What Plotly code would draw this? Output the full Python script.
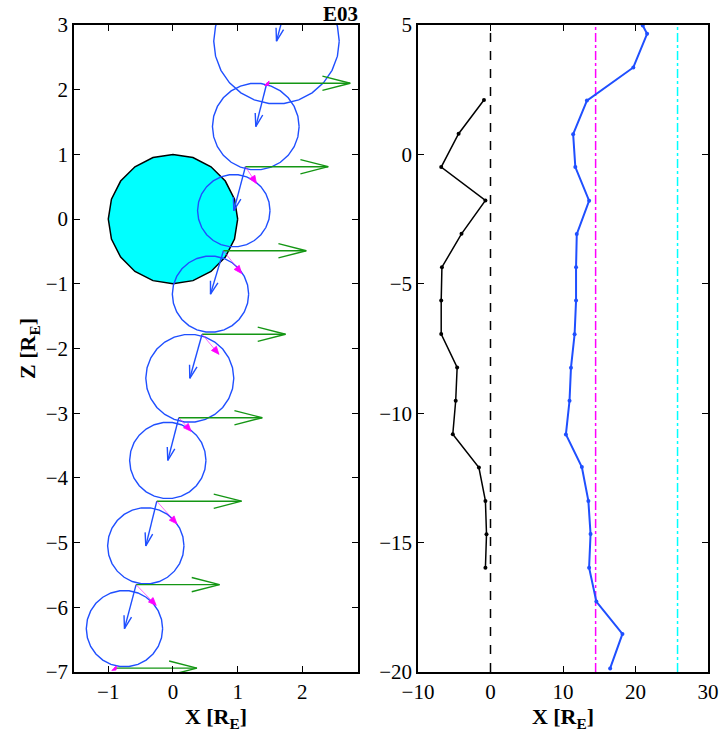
import numpy as np
import plotly.graph_objects as go

# spacecraft positions (left panel), X and Z in R_E
pos_x = [1.77, 1.45, 1.12, 0.78, 0.45, 0.09, -0.25, -0.57, -0.91]
pos_z = [3.39, 2.10, 0.81, -0.49, -1.78, -3.07, -4.36, -5.65, -6.94]
# blue vector (to circle centre) and circle radius
blue_dx = [-0.17, -0.17, -0.18, -0.20, -0.19, -0.17, -0.17, -0.18, None]
blue_dz = [-0.64, -0.67, -0.68, -0.67, -0.68, -0.66, -0.69, -0.68, None]
circle_r = [0.97, 0.67, 0.56, 0.59, 0.68, 0.59, 0.59, 0.59, None]
# green reference vector (length along X)
green_dx = [1.29, 1.29, 1.28, 1.28, 1.29, 1.29, 1.31, 1.29, 1.28]
# magenta vector
pink_dx = [None, 0.03, 0.17, 0.28, 0.26, 0.19, 0.31, 0.31, 0.03]
pink_dz = [None, -0.03, -0.26, -0.35, -0.31, -0.21, -0.35, -0.32, -0.03]

# right panel profiles
prof_z = [2.1, 0.8, -0.49, -1.78, -3.07, -4.36, -5.65, -6.94, -8.23, -9.52,
          -10.81, -12.1, -13.39, -14.68, -15.97]
black_x = [-0.9, -4.4, -6.8, -0.7, -4.0, -6.7, -6.8, -6.8, -4.6, -4.8,
           -5.2, -1.6, -0.7, -0.55, -0.7]
blue_z = [4.98, 4.66, 3.36, 2.08, 0.78, -0.49, -1.79, -3.08, -4.36, -5.65, -6.95,
          -8.24, -9.52, -10.82, -12.08, -13.39, -14.67, -15.97, -17.28, -18.53, -19.86]
blue_x = [21.0, 21.6, 19.7, 13.3, 11.4, 11.7, 13.6, 11.9, 11.8, 11.8, 11.6,
          11.1, 10.9, 10.4, 12.6, 13.5, 13.8, 13.6, 14.6, 18.2, 16.5]
ref_lines = [(0, "black", "dash"), (14.5, "magenta", "dashdot"), (25.8, "cyan", "dashdot")]

FONT = "Liberation Serif"
W, H = 720, 742


def arrow(x0, z0, dx, dz, head, width):
    """shaft + head coordinates for an arrow"""
    L = np.hypot(dx, dz)
    ux, uz = dx / L, dz / L
    x1, z1 = x0 + dx, z0 + dz
    bx, bz = x1 - ux * head, z1 - uz * head
    px, pz = -uz * width, ux * width
    shaft = ([x0, x1], [z0, z1])
    hd = ([bx + px, x1, bx - px], [bz + pz, z1, bz - pz])
    return shaft, hd


def circle(cx, cz, r, n):
    t = np.linspace(0, 2 * np.pi, n + 1)
    return cx + r * np.cos(t), cz + r * np.sin(t)


fig = go.Figure()

ex, ez = circle(0, 0, 1, 20)
fig.add_trace(go.Scatter(x=ex, y=ez, fill="toself", fillcolor="cyan", mode="lines",
                         line=dict(color="black", width=1.5), xaxis="x", yaxis="y"))

for i in range(len(pos_x)):
    x0, z0 = pos_x[i], pos_z[i]
    if circle_r[i] is not None:
        cx, cz = x0 + blue_dx[i], z0 + blue_dz[i]
        xs, zs = circle(cx, cz, circle_r[i], 26)
        fig.add_trace(go.Scatter(x=xs, y=zs, mode="lines", line=dict(color="#1f4fff", width=1.4)))
        s, h = arrow(x0, z0, blue_dx[i], blue_dz[i], 0.2, 0.06)
        fig.add_trace(go.Scatter(x=s[0], y=s[1], mode="lines", line=dict(color="#1f4fff", width=1.4)))
        fig.add_trace(go.Scatter(x=h[0], y=h[1], mode="lines", line=dict(color="#1f4fff", width=1.4)))
    s, h = arrow(x0, z0, green_dx[i], 0, 0.43, 0.11)
    fig.add_trace(go.Scatter(x=s[0], y=s[1], mode="lines", line=dict(color="#149614", width=1.4)))
    fig.add_trace(go.Scatter(x=h[0], y=h[1], mode="lines", line=dict(color="#149614", width=1.4)))
    if pink_dx[i] is not None:
        L = np.hypot(pink_dx[i], pink_dz[i])
        s, h = arrow(x0, z0, pink_dx[i], pink_dz[i], min(0.12, L), 0.05)
        fig.add_trace(go.Scatter(x=s[0], y=s[1], mode="lines", line=dict(color="magenta", width=0.6)))
        fig.add_trace(go.Scatter(x=h[0] + [h[0][0]], y=h[1] + [h[1][0]], mode="lines", fill="toself",
                                 fillcolor="magenta", line=dict(color="magenta", width=0.8)))

for xv, col, dash in ref_lines:
    fig.add_trace(go.Scatter(x=[xv, xv], y=[-20, 5], mode="lines", xaxis="x2", yaxis="y2",
                             line=dict(color=col, width=1.5, dash=dash)))
fig.add_trace(go.Scatter(x=black_x, y=prof_z, mode="lines+markers", xaxis="x2", yaxis="y2",
                         line=dict(color="black", width=1.5), marker=dict(size=4, color="black")))
fig.add_trace(go.Scatter(x=blue_x, y=blue_z, mode="lines+markers", xaxis="x2", yaxis="y2",
                         line=dict(color="#1f4fff", width=2), marker=dict(size=4, color="#1f4fff")))

ax = dict(showgrid=False, zeroline=False, showline=True, linecolor="black", linewidth=1.5,
          mirror="ticks", ticks="inside", ticklen=6, tickcolor="black", automargin=False,
          tickfont=dict(family=FONT, size=21, color="black"))
title_font = dict(family=FONT, size=22, color="black")
ydom = [1 - 672 / H, 1 - 25 / H]

fig.update_layout(
    width=W, height=H, margin=dict(l=0, r=0, t=0, b=0),
    paper_bgcolor="white", plot_bgcolor="white", showlegend=False,
    xaxis=dict(ax, domain=[74 / W, 358 / W], range=[-1.53, 2.86], tickvals=[-1, 0, 1, 2],
               title=dict(text="<b>X [R<sub>E</sub>]</b>", font=title_font, standoff=2)),
    yaxis=dict(ax, domain=ydom, range=[-7, 3], dtick=1,
               title=dict(text="<b>Z [R<sub>E</sub>]</b>", font=title_font, standoff=4)),
    xaxis2=dict(ax, domain=[418 / W, 708 / W], range=[-10, 30], dtick=10, anchor="y2",
                title=dict(text="<b>X [R<sub>E</sub>]</b>", font=title_font, standoff=2)),
    yaxis2=dict(ax, domain=ydom, range=[-20, 5], dtick=5, anchor="x2"),
    annotations=[dict(text="<b>E03</b>", x=360 / W, y=ydom[1], xref="paper", yref="paper",
                      xanchor="right", yanchor="bottom", yshift=-3, showarrow=False,
                      font=dict(family=FONT, size=21, color="black"))],
)

fig.write_html("out.html", config={"displayModeBar": False},
               post_script="document.body.style.margin='0px';")
